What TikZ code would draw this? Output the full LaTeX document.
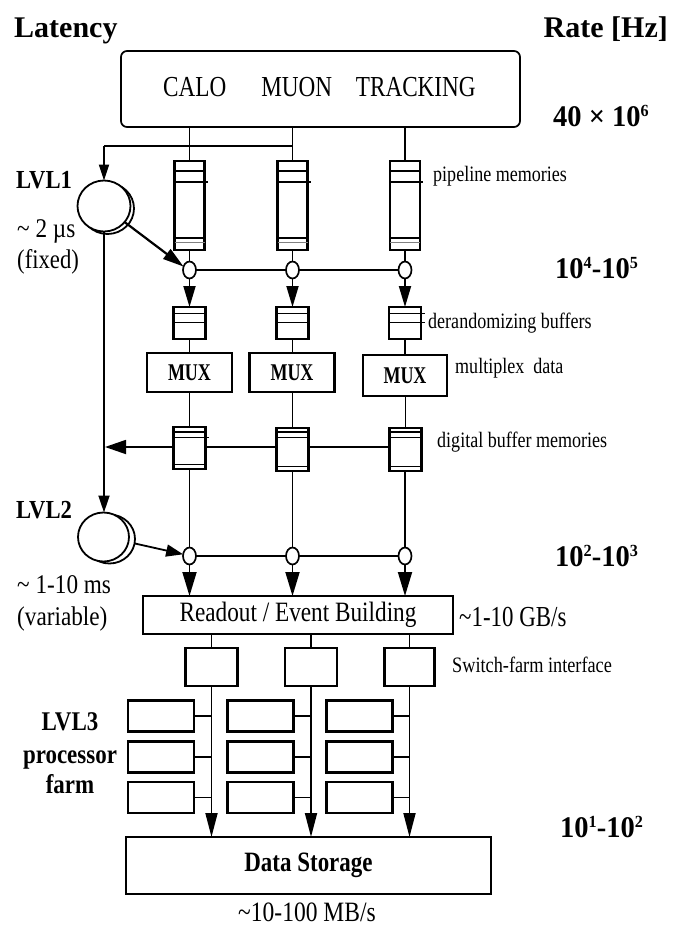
\documentclass[tikz,border=0pt]{standalone}
\usepackage{fontspec}
\setmainfont{Liberation Serif}
\usepackage{graphicx}
\usetikzlibrary{arrows.meta,calc,shapes.geometric}
\newcommand\sx[2]{\scalebox{#1}[1]{#2}}
\newcommand\fs[1]{\fontsize{#1}{#1}\selectfont}
\newcommand\mytil{\textasciitilde}
\newcommand\myexp[1]{\raisebox{10pt}{\fs{17}#1}}
\tikzset{
  box/.style={draw, line width=2.3pt, fill=white, inner sep=0pt, outer sep=0pt},
  ln/.style={line width=1.8pt},
  arr/.style={line width=1.8pt, -{Triangle[length=21pt,width=12pt]}},
  dot/.style={draw, line width=1.7pt, fill=white, ellipse, minimum width=13pt, minimum height=17pt, inner sep=0pt, outer sep=0pt},
  circ/.style={draw, line width=1.8pt, fill=white, ellipse, minimum width=53pt, minimum height=51pt, inner sep=0pt, outer sep=0pt},
  lbl/.style={inner sep=0pt, anchor=base west},
  ctr/.style={inner sep=0pt, anchor=base},
}
\begin{document}
\begin{tikzpicture}[x=1pt,y=-1pt]
\useasboundingbox (0,0) rectangle (677,927);

% headings and rates
\node[lbl] (lat) at (14,37) {\fs{30}\bfseries Latency};
\node[lbl,anchor=base east] (rate) at (668,37) {\fs{30}\bfseries Rate [Hz]};
\node[lbl] (r1) at (553,126) {\sx{0.95}{\fs{30}\bfseries 40 × 10\myexp{6}}};
\node[lbl] (r2) at (555,278) {\sx{0.95}{\fs{30}\bfseries 10\myexp{4}-10\myexp{5}}};
\node[lbl] (r3) at (555,566) {\sx{0.95}{\fs{30}\bfseries 10\myexp{2}-10\myexp{3}}};
\node[lbl] (r4) at (560,837) {\sx{0.95}{\fs{30}\bfseries 10\myexp{1}-10\myexp{2}}};

% detector box
\node[box, line width=1.7pt, rounded corners=6pt, minimum width=399pt, minimum height=76pt] (top) at (320.5,89) {};
\node[ctr] (calo) at (194.8,96.7) {\sx{0.8}{\fs{29}CALO}};
\node[ctr] (muon) at (296.7,96.7) {\sx{0.8}{\fs{29}MUON}};
\node[ctr] (trk) at (415.8,96.7) {\sx{0.8}{\fs{29}TRACKING}};

% pipeline memories
\node[box, minimum width=30pt, minimum height=89pt] (pm1) at (189.5,205.5) {};
\node[box, minimum width=30pt, minimum height=89pt] (pm2) at (292.5,205.5) {};
\node[box, minimum width=30pt, minimum height=89pt] (pm3) at (405,205.5) {};
\foreach \nm in {pm1,pm2,pm3}{
  \draw[ln] ($(\nm.north west)+(0,10)$) -- ($(\nm.north east)+(0,10)$);
  \draw[ln] ($(\nm.north west)+(0,21)$) -- ($(\nm.north east)+(3,21)$);
  \draw[ln] ($(\nm.south west)+(0,-12)$) -- ($(\nm.south east)+(0,-12)$);
  \draw[line width=0.9pt, gray] ($(\nm.south west)+(0,-8)$) -- ($(\nm.south east)+(0,-8)$);
}
\draw[ln] (top.south -| pm1) -- (pm1.north);
\draw[ln] (top.south -| pm2) -- (pm2.north);
\draw[ln] (top.south -| pm3) -- (pm3.north);
\node[lbl] (lpm) at (433,181) {\sx{0.82}{\fs{22}pipeline memories}};

% LVL1
\node[circ] (l1b) at (107.5,208.5) {};
\node[circ] (l1) at (104,206) {};
\coordinate (fb) at (292.5,146);
\coordinate (fa) at (104,146);
\draw[ln] (fb) -- (fa);
\draw[arr, -{Triangle[length=16pt,width=10pt]}] (fa) -- (l1.north);
\node[lbl] (tl1) at (16,188) {\sx{0.87}{\fs{26}\bfseries LVL1}};
\node[lbl] (tl1a) at (17,237) {\sx{0.86}{\fs{27}\mytil{} 2 µs}};
\node[lbl] (tl1b) at (17,268) {\sx{0.84}{\fs{27}(fixed)}};

% LVL1 decision points
\node[dot] (n11) at (189.5,270) {};
\node[dot] (n12) at (292.5,270) {};
\node[dot] (n13) at (405,270) {};
\draw[ln] (pm1.south) -- (n11.north);
\draw[ln] (pm2.south) -- (n12.north);
\draw[ln] (pm3.south) -- (n13.north);
\draw[ln] (n11.east) -- (n12.west);
\draw[ln] (n12.east) -- (n13.west);
\draw[arr, line width=2.2pt] (l1.-38) -- (n11.150);

% derandomizing buffers
\node[box, minimum width=32pt, minimum height=32pt] (db1) at (189.5,323) {};
\node[box, minimum width=32pt, minimum height=32pt] (db2) at (292.5,323) {};
\node[box, minimum width=32pt, minimum height=32pt] (db3) at (405,323) {};
\foreach \nm in {db1,db2}{
  \draw[ln] ($(\nm.north west)+(0,6.5)$) -- ($(\nm.north east)+(0,6.5)$);
  \draw[ln] ($(\nm.north west)+(0,15.5)$) -- ($(\nm.north east)+(0,15.5)$);
}
\draw[ln] ($(db3.north west)+(0,6.5)$) -- ($(db3.north east)+(3.5,6.5)$);
\draw[ln] ($(db3.north west)+(0,15.5)$) -- ($(db3.north east)+(3.5,15.5)$);
\draw[arr] (n11.south) -- (db1.north);
\draw[arr] (n12.south) -- (db2.north);
\draw[arr] (n13.south) -- (db3.north);
\node[lbl] (ldb) at (428,328) {\sx{0.82}{\fs{22}derandomizing buffers}};

% MUX
\node[box, minimum width=85pt, minimum height=39pt] (mx1) at (189.5,372.5) {\sx{0.75}{\fs{24}\bfseries MUX}};
\node[box, minimum width=85pt, minimum height=39pt] (mx2) at (292,372.5) {\sx{0.75}{\fs{24}\bfseries MUX}};
\node[box, minimum width=84pt, minimum height=41pt] (mx3) at (405,375.5) {\sx{0.75}{\fs{24}\bfseries MUX}};
\draw[ln] (db1.south) -- (mx1.north -| db1);
\draw[ln] (db2.south) -- (mx2.north -| db2);
\draw[ln] (db3.south) -- (mx3.north -| db3);
\node[lbl] (lmx) at (455,373) {\sx{0.82}{\fs{22}multiplex\ \ data}};

% digital buffer memories
\node[box, minimum width=32pt, minimum height=42pt] (dg1) at (189.5,448) {};
\node[box, minimum width=32pt, minimum height=43pt] (dg2) at (292.5,449.5) {};
\node[box, minimum width=32pt, minimum height=43pt] (dg3) at (405.5,449.5) {};
\draw[ln] ($(dg1.north west)+(0,5)$) -- ($(dg1.north east)+(0,5)$);
\draw[ln] ($(dg1.north west)+(0,10.5)$) -- ($(dg1.north east)+(3,10.5)$);
\foreach \nm in {dg2,dg3}{
  \draw[ln] ($(\nm.north west)+(0,4)$) -- ($(\nm.north east)+(0,4)$);
  \draw[ln] ($(\nm.north west)+(0,9.5)$) -- ($(\nm.north east)+(0,9.5)$);
}
\foreach \nm in {dg1,dg2,dg3}{
  \draw[ln] ($(\nm.south west)+(0,-4.5)$) -- ($(\nm.south east)+(0,-4.5)$);
}
\draw[ln] (mx1.south -| dg1) -- (dg1.north);
\draw[ln] (mx2.south -| dg2) -- (dg2.north);
\draw[ln] (mx3.south -| dg3) -- (dg3.north);
\draw[ln] (dg3.west |- 0,447) -- (dg2.east |- 0,447);
\draw[ln] (dg2.west |- 0,447) -- (dg1.east |- 0,447);
\coordinate (vt) at (105,447);
\draw[arr, -{Triangle[length=21pt,width=14pt]}] (dg1.west |- 0,447) -- (vt);
\node[lbl] (ldg) at (437,447.5) {\sx{0.82}{\fs{22}digital buffer memories}};

% LVL2
\node[circ, minimum width=51pt, minimum height=49pt] (l2b) at (109.5,539) {};
\node[circ, minimum width=51pt, minimum height=49pt] (l2) at (103.5,537) {};
\draw[arr, -{Triangle[length=17pt,width=11pt]}] (l1.south -| fa) -- (l2.north -| fa);
\node[lbl] (tl2) at (16,518) {\sx{0.87}{\fs{26}\bfseries LVL2}};
\node[lbl] (tl2a) at (17,593) {\sx{0.86}{\fs{27}\mytil{} 1-10 ms}};
\node[lbl] (tl2b) at (17,625) {\sx{0.86}{\fs{27}(variable)}};

\node[dot] (n21) at (189.5,556) {};
\node[dot] (n22) at (292.5,556) {};
\node[dot] (n23) at (405,556) {};
\draw[ln] (dg1.south) -- (n21.north);
\draw[ln] (dg2.south) -- (n22.north);
\draw[ln] (dg3.south -| n23) -- (n23.north);
\draw[ln] (n21.east) -- (n22.west);
\draw[ln] (n22.east) -- (n23.west);
\draw[arr, -{Triangle[length=17pt,width=12pt]}] (l2b.-10) -- (n21.165);

% readout
\node[box, minimum width=310pt, minimum height=38pt] (ro) at (298,615) {\sx{0.83}{\fs{28}Readout / Event Building}};
\draw[arr, -{Triangle[length=24pt,width=14pt]}] (n21.south) -- (n21.south |- ro.north);
\draw[arr, -{Triangle[length=24pt,width=14pt]}] (n22.south) -- (n22.south |- ro.north);
\draw[arr, -{Triangle[length=24pt,width=14pt]}] (n23.south) -- (n23.south |- ro.north);
\node[lbl] (lgb) at (459,626.5) {\sx{0.79}{\fs{29}\mytil{}1-10 GB/s}};

% switch-farm interface
\node[box, minimum width=52pt, minimum height=38pt] (sw1) at (211.5,667) {};
\node[box, minimum width=52pt, minimum height=38pt] (sw2) at (311,667) {};
\node[box, minimum width=50pt, minimum height=38pt] (sw3) at (409.5,667) {};
\draw[ln] (ro.south -| sw1) -- (sw1.north);
\draw[ln] (ro.south -| sw2) -- (sw2.north);
\draw[ln] (ro.south -| sw3) -- (sw3.north);
\node[lbl] (lsw) at (452,672.5) {\sx{0.83}{\fs{22}Switch-farm interface}};

% data storage
\node[box, minimum width=365pt, minimum height=57pt] (ds) at (308.5,865.5) {\sx{0.82}{\fs{28}\bfseries Data Storage}};
\draw[arr, -{Triangle[length=24pt,width=12pt]}] (sw1.south) -- (sw1.south |- ds.north);
\draw[arr, -{Triangle[length=24pt,width=12pt]}] (sw2.south) -- (sw2.south |- ds.north);
\draw[arr, -{Triangle[length=24pt,width=12pt]}] (sw3.south) -- (sw3.south |- ds.north);
\node[ctr] (lmb) at (307,921.5) {\sx{0.84}{\fs{28}\mytil{}10-100 MB/s}};

% LVL3 processor farm
\foreach \c/\cx/\sw in {1/161/sw1,2/260.5/sw2,3/359.5/sw3}{
  \foreach \r/\ry in {1/716,2/757,3/797.5}{
    \node[box, minimum width=66pt, minimum height=31pt] (p\c\r) at (\cx,\ry) {};
    \draw[ln] (p\c\r.east) -- (p\c\r.east -| \sw);
  }
}
\node[ctr] (tl3a) at (70,730) {\sx{0.85}{\fs{27}\bfseries LVL3}};
\node[ctr] (tl3b) at (70,763) {\sx{0.85}{\fs{27}\bfseries processor}};
\node[ctr] (tl3c) at (70,793) {\sx{0.85}{\fs{27}\bfseries farm}};
\end{tikzpicture}
\end{document}
